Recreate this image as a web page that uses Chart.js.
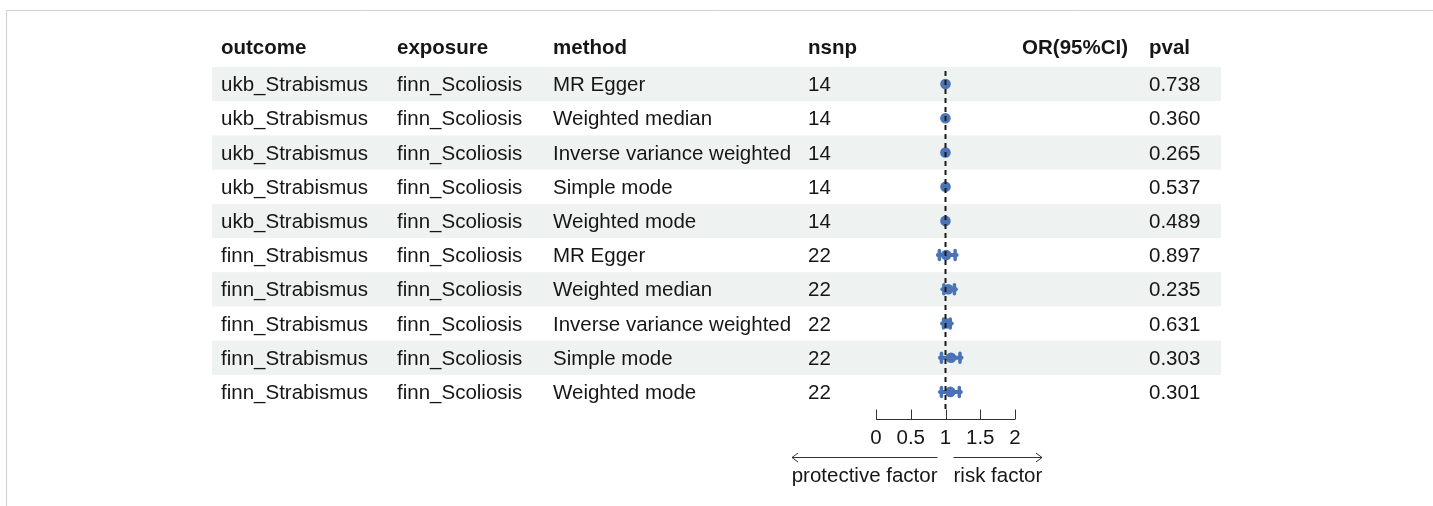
<!DOCTYPE html>
<html>
<head>
<meta charset="utf-8">
<script src="https://cdn.jsdelivr.net/npm/chart.js@4.4.1/dist/chart.umd.min.js"></script>
<style>
  html, body { margin: 0; padding: 0; background: #ffffff; }
  #wrap { position: relative; width: 1433px; height: 506px; }
</style>
</head>
<body>
<div id="wrap"><canvas id="c" width="1433" height="506"></canvas></div>
<script>
// ---- data ----
const headers = ["outcome", "exposure", "method", "nsnp", "OR(95%CI)", "pval"];
const outcomes = ["ukb_Strabismus","ukb_Strabismus","ukb_Strabismus","ukb_Strabismus","ukb_Strabismus",
                  "finn_Strabismus","finn_Strabismus","finn_Strabismus","finn_Strabismus","finn_Strabismus"];
const exposures = ["finn_Scoliosis","finn_Scoliosis","finn_Scoliosis","finn_Scoliosis","finn_Scoliosis",
                   "finn_Scoliosis","finn_Scoliosis","finn_Scoliosis","finn_Scoliosis","finn_Scoliosis"];
const methods = ["MR Egger","Weighted median","Inverse variance weighted","Simple mode","Weighted mode",
                 "MR Egger","Weighted median","Inverse variance weighted","Simple mode","Weighted mode"];
const nsnp = ["14","14","14","14","14","22","22","22","22","22"];
const orValues = [1.000, 0.999, 0.999, 1.000, 0.999, 1.01, 1.04, 1.02, 1.08, 1.07];
const lowerCI  = [0.995, 0.996, 0.997, 0.995, 0.996, 0.89, 0.955, 0.95, 0.92, 0.92];
const upperCI  = [1.005, 1.002, 1.001, 1.005, 1.002, 1.16, 1.15, 1.09, 1.23, 1.22];
const pvals = ["0.738","0.360","0.265","0.537","0.489","0.897","0.235","0.631","0.303","0.301"];
const xTicks = [0, 0.5, 1, 1.5, 2];
const xTickLabels = ["0", "0.5", "1", "1.5", "2"];
const arrowLabels = ["protective factor", "risk factor"];

const FONT = '"Liberation Sans", Arial, Helvetica, sans-serif';
const FS = 20.5;
const TXT = '#161616';
const BLUE = '#4a74b6';

const colX = [221, 397, 553, 808, null, 1149];
const orHeaderRight = 1128;
const bandLeft = 212, bandRight = 1221;

const tablePlugin = {
  id: 'forestTable',
  beforeDatasetsDraw(chart) {
    const ctx = chart.ctx;
    const xs = chart.scales.x, ys = chart.scales.y;
    const ca = chart.chartArea;
    ctx.save();
    // frame
    ctx.strokeStyle = '#cfcfcf';
    ctx.lineWidth = 1;
    ctx.beginPath();
    ctx.moveTo(6.5, 506); ctx.lineTo(6.5, 10.5); ctx.lineTo(1433, 10.5);
    ctx.stroke();
    // bands
    const rowH = Math.abs(ys.getPixelForValue(2) - ys.getPixelForValue(1));
    ctx.fillStyle = '#eef2f0';
    for (let i = 0; i < outcomes.length; i += 2) {
      const yc = ys.getPixelForValue(i + 1);
      ctx.fillRect(bandLeft, yc - rowH / 2, bandRight - bandLeft, rowH);
    }
    // headers
    ctx.fillStyle = TXT;
    ctx.textBaseline = 'middle';
    ctx.font = 'bold ' + FS + 'px ' + FONT;
    const hy = ca.top - 19;
    [0,1,2,3,5].forEach(k => { ctx.textAlign = 'left'; ctx.fillText(headers[k], colX[k], hy); });
    ctx.textAlign = 'right';
    ctx.fillText(headers[4], orHeaderRight, hy);
    // rows
    ctx.font = FS + 'px ' + FONT;
    ctx.textAlign = 'left';
    for (let i = 0; i < outcomes.length; i++) {
      const y = ys.getPixelForValue(i + 1) + 1.5;
      ctx.fillText(outcomes[i], colX[0], y);
      ctx.fillText(exposures[i], colX[1], y);
      ctx.fillText(methods[i], colX[2], y);
      ctx.fillText(nsnp[i], colX[3], y);
      ctx.fillText(pvals[i], colX[5], y);
    }
    // CI whiskers
    ctx.strokeStyle = BLUE;
    ctx.lineCap = 'round';
    for (let i = 0; i < outcomes.length; i++) {
      const y = ys.getPixelForValue(i + 1);
      const xl = xs.getPixelForValue(lowerCI[i]);
      const xu = xs.getPixelForValue(upperCI[i]);
      ctx.lineWidth = 4;
      ctx.beginPath();
      ctx.moveTo(xl, y); ctx.lineTo(xu, y);
      ctx.stroke();
      if (xu - xl > 3) {
        ctx.lineWidth = 3.5;
        ctx.beginPath();
        ctx.moveTo(xl + 1.5, y - 4.5); ctx.lineTo(xl + 1.5, y + 4.5);
        ctx.moveTo(xu - 1.5, y - 4.5); ctx.lineTo(xu - 1.5, y + 4.5);
        ctx.stroke();
      }
    }
    // x axis
    const axY = 419.5;
    ctx.strokeStyle = '#333333';
    ctx.lineWidth = 1;
    ctx.lineCap = 'butt';
    ctx.beginPath();
    ctx.moveTo(xs.getPixelForValue(xTicks[0]), axY);
    ctx.lineTo(xs.getPixelForValue(xTicks[xTicks.length - 1]), axY);
    xTicks.forEach(t => {
      const tx = Math.round(xs.getPixelForValue(t)) + 0.5;
      ctx.moveTo(tx, axY); ctx.lineTo(tx, axY - 10);
    });
    ctx.stroke();
    ctx.fillStyle = TXT;
    ctx.textAlign = 'center';
    xTicks.forEach((t, k) => ctx.fillText(xTickLabels[k], xs.getPixelForValue(t), 438));
    // arrows
    const arY = 457.5;
    const xa = xs.getPixelForValue(1);
    ctx.strokeStyle = '#333333';
    ctx.beginPath();
    ctx.moveTo(xa - 8, arY); ctx.lineTo(792, arY);
    ctx.moveTo(798, arY - 4.5); ctx.lineTo(792, arY); ctx.lineTo(798, arY + 4.5);
    ctx.moveTo(xa + 8, arY); ctx.lineTo(1042, arY);
    ctx.moveTo(1036, arY - 4.5); ctx.lineTo(1042, arY); ctx.lineTo(1036, arY + 4.5);
    ctx.stroke();
    ctx.textAlign = 'right';
    ctx.fillText(arrowLabels[0], xa - 8, 476);
    ctx.textAlign = 'left';
    ctx.fillText(arrowLabels[1], xa + 8, 476);
    ctx.restore();
  },
  afterDatasetsDraw(chart) {
    // reference dashed line at OR = 1, drawn over the marks
    const ctx = chart.ctx;
    const xs = chart.scales.x;
    const ca = chart.chartArea;
    const x1 = xs.getPixelForValue(1);
    ctx.save();
    ctx.strokeStyle = '#1a1a1a';
    ctx.lineWidth = 2;
    ctx.setLineDash([5, 4]);
    ctx.beginPath();
    ctx.moveTo(x1, ca.top + 4); ctx.lineTo(x1, ca.bottom + 1);
    ctx.stroke();
    ctx.restore();
  }
};

new Chart(document.getElementById('c'), {
  type: 'scatter',
  data: {
    datasets: [{
      label: 'OR',
      data: orValues.map((v, i) => ({ x: v, y: i + 1 })),
      backgroundColor: BLUE,
      borderColor: BLUE,
      pointRadius: 5.3,
      pointHoverRadius: 5.3,
      borderWidth: 0
    }]
  },
  options: {
    responsive: false,
    animation: false,
    devicePixelRatio: 1,
    layout: { padding: { left: 876, right: 1433 - 1015, top: 67, bottom: 506 - 409 } },
    plugins: { legend: { display: false }, tooltip: { enabled: false } },
    scales: {
      x: { type: 'linear', min: 0, max: 2, display: false },
      y: { type: 'linear', min: 0.5, max: 10.5, reverse: true, display: false }
    }
  },
  plugins: [tablePlugin]
});
</script>
</body>
</html>
